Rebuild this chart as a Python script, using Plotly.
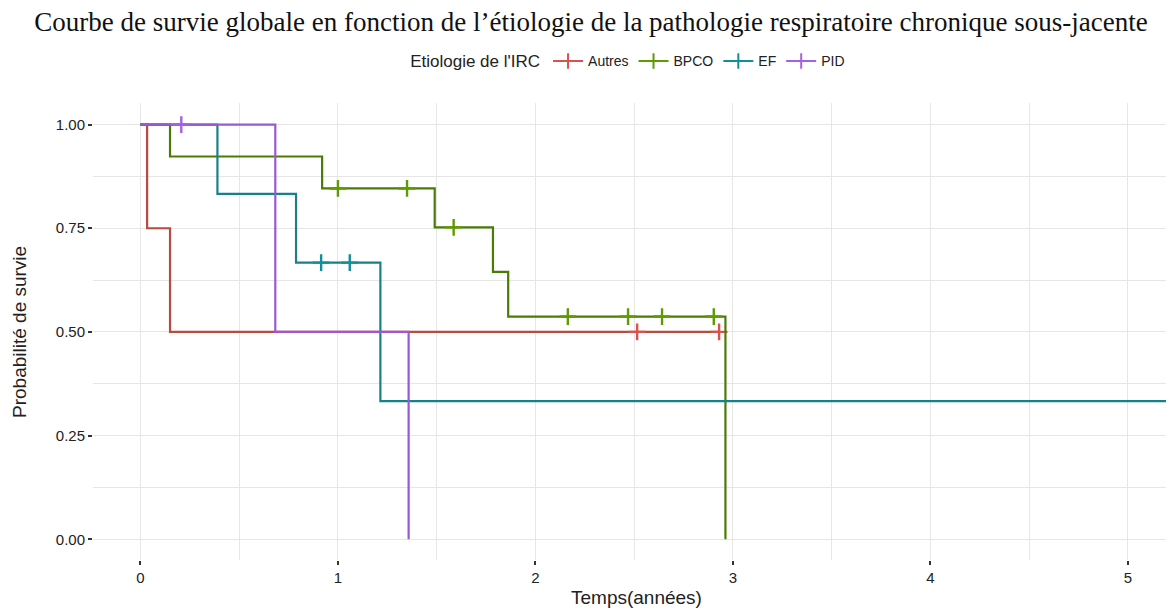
import plotly.graph_objects as go

# Kaplan-Meier steps (time in years, survival after step)
groups = ["Autres", "BPCO", "EF", "PID"]

autres_t = [0, 0.034, 0.15, 2.93]
autres_s = [1.0, 0.75, 0.50, 0.50]
autres_cens_t = [2.515, 2.93]
autres_cens_s = [0.50, 0.50]

bpco_t = [0, 0.15, 0.92, 1.49, 1.785, 1.862, 2.962]
bpco_s = [1.0, 0.923, 0.846, 0.752, 0.645, 0.537, 0.0]
bpco_cens_t = [1.0, 1.35, 1.586, 2.164, 2.469, 2.641, 2.903]
bpco_cens_s = [0.846, 0.846, 0.752, 0.537, 0.537, 0.537, 0.537]

ef_t = [0, 0.39, 0.788, 1.215, 5.5]
ef_s = [1.0, 0.833, 0.667, 0.333, 0.333]
ef_cens_t = [0.915, 1.06]
ef_cens_s = [0.667, 0.667]

pid_t = [0, 0.683, 1.358]
pid_s = [1.0, 0.50, 0.0]
pid_cens_t = [0.207]
pid_cens_s = [1.0]

x_ticks = [0, 1, 2, 3, 4, 5]
y_ticks = [0, 0.25, 0.5, 0.75, 1.0]
y_ticklabels = ["0.00", "0.25", "0.50", "0.75", "1.00"]

line_cols = ["#b84a3f", "#4a7c05", "#17808a", "#9a58d4"]
mark_cols = ["#d9534c", "#5e9a02", "#12909a", "#a660e2"]

data = [
    (autres_t, autres_s, autres_cens_t, autres_cens_s),
    (bpco_t, bpco_s, bpco_cens_t, bpco_cens_s),
    (ef_t, ef_s, ef_cens_t, ef_cens_s),
    (pid_t, pid_s, pid_cens_t, pid_cens_s),
]

sans = "Liberation Sans, Arial, sans-serif"
grid = "#e6e6e6"

fig = go.Figure()
for name, (t, s, ct, cs), lc, mc in zip(groups, data, line_cols, mark_cols):
    fig.add_trace(go.Scatter(
        x=t, y=s, mode="lines", line=dict(color=lc, width=2.2, shape="hv"),
        showlegend=False, legendgroup=name, hoverinfo="skip",
    ))
    fig.add_trace(go.Scatter(
        x=ct, y=cs, mode="markers",
        marker=dict(symbol="cross-thin-open", size=12, color=mc, line=dict(color=mc, width=2.4)),
        showlegend=False, legendgroup=name,
    ))
    # legend entry only
    fig.add_trace(go.Scatter(
        x=[None], y=[None], mode="lines+markers", name=name, legendgroup=name,
        line=dict(color=mc, width=2),
        marker=dict(symbol="line-ns-open", size=11, color=mc, line=dict(color=mc, width=2)),
    ))

fig.update_xaxes(
    range=[-0.24, 5.233], tickvals=x_ticks, ticktext=[str(v) for v in x_ticks],
    showgrid=True, gridcolor=grid, gridwidth=1.4, zeroline=False, showline=False,
    ticks="outside", ticklen=4, tickcolor="#333333", tickwidth=1.5,
    minor=dict(dtick=0.5, showgrid=True, gridcolor=grid, gridwidth=1.4),
    tickfont=dict(family=sans, size=15, color="#222222"),
    automargin=False,
)
fig.update_yaxes(
    range=[-0.05, 1.052], tickvals=y_ticks, ticktext=y_ticklabels,
    showgrid=True, gridcolor=grid, gridwidth=1.4, zeroline=False, showline=False,
    ticks="outside", ticklen=4, tickcolor="#333333", tickwidth=1.5,
    minor=dict(tick0=0, dtick=0.125, showgrid=True, gridcolor=grid, gridwidth=1.4),
    tickfont=dict(family=sans, size=15, color="#222222"),
    automargin=False,
)

# axis titles placed as annotations for exact positioning
fig.add_annotation(text="Temps(années)", xref="paper", yref="paper", x=0.503, y=-0.083,
                   xanchor="center", yanchor="middle", showarrow=False,
                   font=dict(family=sans, size=19, color="#222222"))
fig.add_annotation(text="Probabilité de survie", xref="paper", yref="paper", x=-0.0675, y=0.499,
                   xanchor="center", yanchor="middle", textangle=-90, showarrow=False,
                   font=dict(family=sans, size=19, color="#222222"))

# page body adds an 8px margin, so the figure is 8px smaller than the window
fig.update_layout(
    width=1166, height=602,
    margin=dict(l=85, r=0, t=95, b=50),
    paper_bgcolor="white", plot_bgcolor="white",
    title=dict(
        text="Courbe de survie globale en fonction de l’étiologie de la pathologie respiratoire chronique sous-jacente",
        font=dict(family="Liberation Serif, Times New Roman, serif", size=27, color="#111111"),
        x=0.5, xanchor="center", y=0.977, yanchor="middle",
    ),
    legend=dict(
        orientation="h", x=0.496, xanchor="center", y=1.09, yanchor="middle",
        title=dict(text="Etiologie de l'IRC", font=dict(family=sans, size=17, color="#222222")),
        font=dict(family=sans, size=14, color="#222222"),
        itemwidth=30, tracegroupgap=0, bgcolor="rgba(0,0,0,0)",
    ),
    font=dict(family=sans),
)

fig.write_html("out.html")
